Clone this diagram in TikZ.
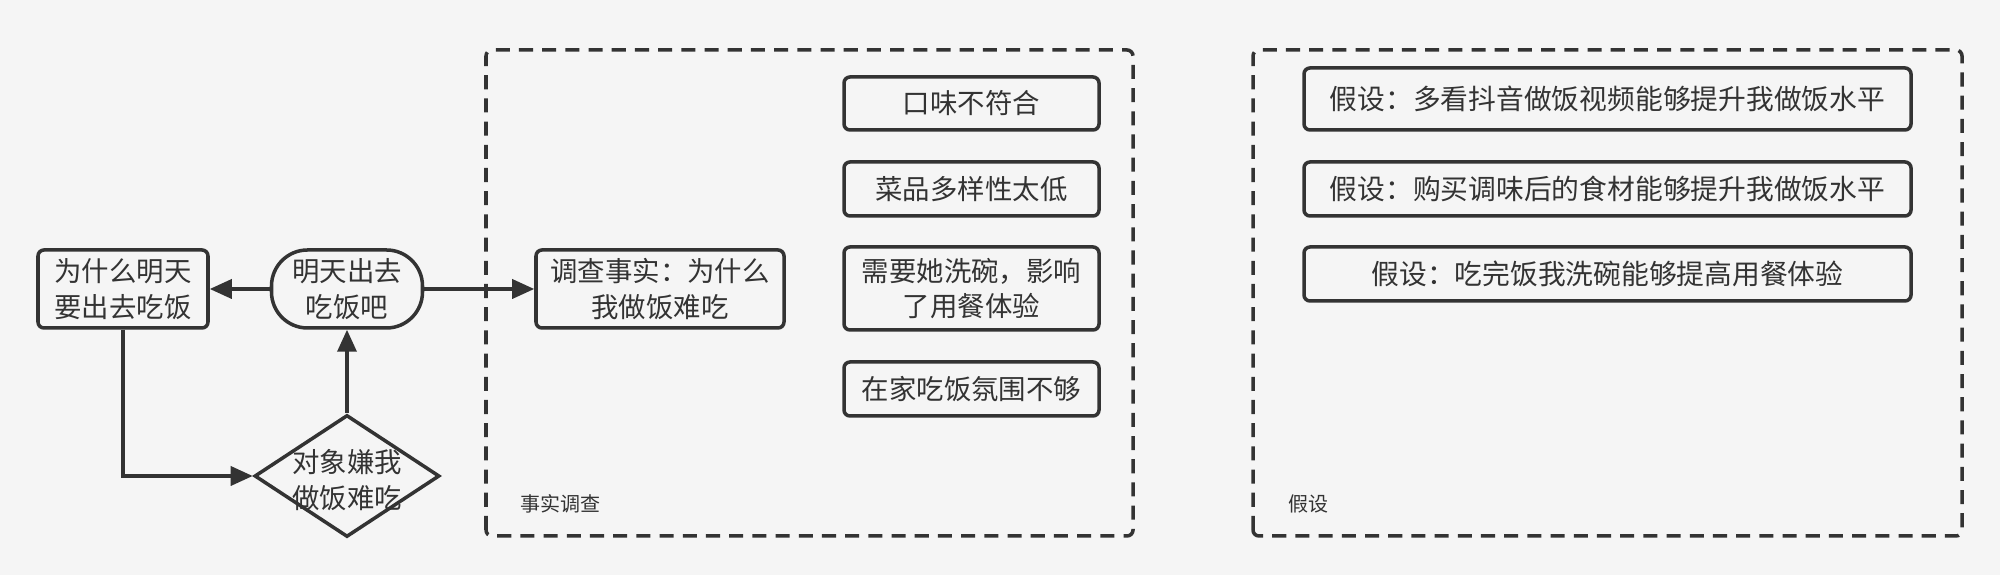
\documentclass[tikz,border=0pt]{standalone}
\usepackage{fontspec}
\setmainfont{Noto Sans CJK SC}
\usetikzlibrary{shapes.geometric,arrows.meta}
\definecolor{bggray}{HTML}{F5F5F5}
\definecolor{ink}{HTML}{333333}
\tikzset{
  box/.style={draw=ink,line width=1pt,rounded corners=0.06cm,fill=bggray,text=ink,inner sep=0pt,align=center,font=\fontsize{7.8}{10.2}\selectfont},
  pill/.style={box,rounded corners=0.36cm},
  choice/.style={diamond,draw=ink,line width=1pt,fill=bggray,inner sep=0pt,minimum width=1.85cm,minimum height=1.22cm},
  factbox/.style={box,minimum width=2.55cm,minimum height=0.54cm},
  hypbox/.style={box,minimum width=6.07cm,minimum height=0.54cm,font=\fontsize{7.9}{10.2}\selectfont},
  group/.style={draw=ink,line width=1pt,dash pattern=on 4pt off 2.6pt,rounded corners=0.06cm},
  grouplabel/.style={text=ink,font=\fontsize{5.7}{7}\selectfont,anchor=west,inner sep=0pt},
  link/.style={draw=ink,line width=1pt,-{Triangle[length=0.22cm,width=0.19cm]}}
}
\begin{document}
\begin{tikzpicture}
\useasboundingbox (0,0) rectangle (20,5.75);
\fill[bggray] (0,0) rectangle (20,5.75);
%\draw[step=1cm,gray,very thin] (0,0) grid (20,5.75);
% dashed groups
\draw[group] (4.86,0.39) rectangle (11.33,5.25);
\draw[group] (12.53,0.39) rectangle (19.62,5.25);
\node[grouplabel] (factlabel) at (5.20,0.71) {事实调查};
\node[grouplabel] (hyplabel) at (12.88,0.71) {假设};
% flow on the left
\node[box,minimum width=1.70cm,minimum height=0.78cm] (why) at (1.23,2.86) {为什么明天\\要出去吃饭};
\node[pill,minimum width=1.51cm,minimum height=0.78cm] (go) at (3.47,2.86) {明天出去\\吃饭吧};
\node[choice,label={[text=ink,align=center,font=\fontsize{7.8}{10.2}\selectfont,yshift=-0.04cm]center:对象嫌我\\做饭难吃}] (obj) at (3.47,0.99) {};
\node[box,minimum width=2.48cm,minimum height=0.78cm] (fact) at (6.60,2.86) {调查事实：为什么\\我做饭难吃};
% facts
\node[factbox,minimum height=0.53cm] (f1) at (9.715,4.715) {口味不符合};
\node[factbox] (f2) at (9.715,3.86) {菜品多样性太低};
\node[factbox,minimum height=0.83cm] (f3) at (9.715,2.865) {需要她洗碗，影响\\了用餐体验};
\node[factbox] (f4) at (9.715,1.86) {在家吃饭氛围不够};
% hypotheses
\node[hypbox,minimum height=0.62cm] (h1) at (16.075,4.76) {假设：多看抖音做饭视频能够提升我做饭水平};
\node[hypbox] (h2) at (16.075,3.86) {假设：购买调味后的食材能够提升我做饭水平};
\node[hypbox] (h3) at (16.075,3.01) {假设：吃完饭我洗碗能够提高用餐体验};
% arrows
\draw[link] (go) -- (why);
\draw[link] (go) -- (fact);
\draw[link] (obj) -- (go);
\draw[link] (why.south) |- (obj.west);
\end{tikzpicture}
\end{document}
